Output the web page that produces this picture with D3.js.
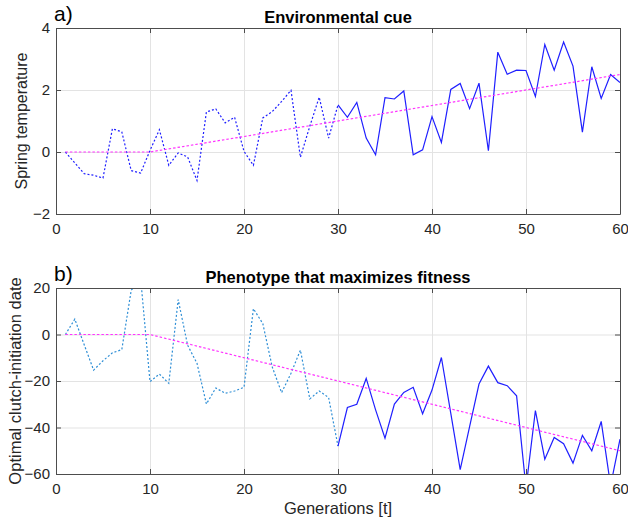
<!DOCTYPE html>
<html>
<head>
<meta charset="utf-8">
<script src="https://cdn.jsdelivr.net/npm/d3@7"></script>
<style>
  body { margin: 0; background: #fff; }
  svg { display: block; font-family: "Liberation Sans", Arial, sans-serif; }
</style>
</head>
<body>
<svg id="chart" width="628" height="528"></svg>
<script>
// generations on the x axis
const generations = [
   1,  2,  3,  4,  5,  6,  7,  8,  9, 10,
  11, 12, 13, 14, 15, 16, 17, 18, 19, 20,
  21, 22, 23, 24, 25, 26, 27, 28, 29, 30,
  31, 32, 33, 34, 35, 36, 37, 38, 39, 40,
  41, 42, 43, 44, 45, 46, 47, 48, 49, 50,
  51, 52, 53, 54, 55, 56, 57, 58, 59, 60];

// a) spring temperature (environmental cue)
const cueValues = [
  0, -0.35, -0.7, -0.75, -0.84, 0.75, 0.65, -0.6, -0.68, 0.05,
  0.72, -0.43, -0.03, -0.16, -0.92, 1.29, 1.39, 0.94, 1.12, 0.02,
  -0.43, 1.1, 1.3, 1.63, 1.99, -0.17, 0.83, 1.77, 0.45, 1.52,
  1.12, 1.6, 0.45, -0.09, 1.75, 1.71, 1.97, -0.09, 0.07, 1.14,
  0.31, 2.02, 2.21, 1.4, 2.22, 0.04, 3.22, 2.51, 2.64, 2.63,
  1.79, 3.47, 2.64, 3.55, 2.77, 0.64, 2.75, 1.73, 2.5, 2.24];

// b) optimal clutch-initiation date
const optimumValues = [
  0, 6.6, -4.4, -15.3, -11.3, -7.9, -6.5, 19, 24.4, -20.3,
  -17, -21, 15, -4.6, -12.4, -29.9, -23, -25.3, -24.3, -22.7,
  11.1, 4.7, -13.9, -25, -16.7, -6.7, -27.7, -24.3, -27.1, -48,
  -31.4, -30, -18.9, -32.4, -44.6, -29.9, -24.9, -22.7, -34.1, -23.9,
  -9.9, -33.9, -58.1, -39.6, -21.3, -13.6, -20.7, -22, -26.4, -66,
  -32.7, -53.6, -44.3, -47, -55.3, -43.4, -50, -37.4, -65, -45];

// mean trend (magenta): flat until generation 10, then linear
const trendGens = [1, 10, 60];
const cueTrend = [0, 0, 2.5];
const optimumTrend = [0, 0, -50];

// generation where the dotted part ends and the solid part starts
const splitGen = 30;

const xTicks = [0, 10, 20, 30, 40, 50, 60];
const cueTicks = [-2, 0, 2, 4];
const optimumTicks = [-60, -40, -20, 0, 20];

const svg = d3.select("#chart");
const left = 56, right = 620;

/**
 * draws one panel (axes box, grid, series, trend, labels)
 */
function drawPanel(cfg) {
    let x = d3.scaleLinear().domain([0, 60]).range([left, right]);
    let y = d3.scaleLinear().domain(cfg.domain).range([cfg.bottom, cfg.top]);
    let h = cfg.bottom - cfg.top;
    let g = svg.append("g");

    // grid lines
    g.append("g")
        .attr("transform", `translate(0,${cfg.bottom})`)
        .call(d3.axisBottom(x).tickValues(xTicks).tickSize(-h).tickFormat(""))
        .call(a => a.select(".domain").remove())
        .selectAll("line").attr("stroke", "#e3e3e3");
    g.append("g")
        .attr("transform", `translate(${left},0)`)
        .call(d3.axisLeft(y).tickValues(cfg.ticks).tickSize(-(right - left)).tickFormat(""))
        .call(a => a.select(".domain").remove())
        .selectAll("line").attr("stroke", "#e3e3e3");

    // clip the series to the axes box
    svg.append("clipPath").attr("id", cfg.id + "-clip")
        .append("rect")
        .attr("x", left).attr("y", cfg.top)
        .attr("width", right - left).attr("height", h);

    let plot = g.append("g").attr("clip-path", `url(#${cfg.id}-clip)`);
    let pts = generations.map((gen, i) => [gen, cfg.values[i]]);
    let line = d3.line().x(d => x(d[0])).y(d => y(d[1]));

    // dotted part up to the split, solid after
    plot.append("path")
        .datum(pts.filter(d => d[0] <= splitGen))
        .attr("d", line)
        .attr("fill", "none")
        .attr("stroke", cfg.dotColor)
        .attr("stroke-width", 1.2)
        .attr("stroke-dasharray", "2,2");
    plot.append("path")
        .datum(pts.filter(d => d[0] >= splitGen))
        .attr("d", line)
        .attr("fill", "none")
        .attr("stroke", "#1f1fff")
        .attr("stroke-width", 1.2);

    // trend
    plot.append("path")
        .datum(trendGens.map((gen, i) => [gen, cfg.trend[i]]))
        .attr("d", line)
        .attr("fill", "none")
        .attr("stroke", "#ff33ff")
        .attr("stroke-width", 1.2)
        .attr("stroke-dasharray", "2.5,2");

    // axes with inward ticks on all four sides
    let styleAxis = a => {
        a.attr("font-size", 15).attr("font-family", "Liberation Sans, Arial, sans-serif");
        a.select(".domain").attr("stroke", "#4d4d4d");
        a.selectAll(".tick line").attr("stroke", "#4d4d4d");
        a.selectAll("text").attr("fill", "#262626");
    };
    let fmt = d3.format("d");
    g.append("g")
        .attr("transform", `translate(0,${cfg.bottom})`)
        .call(d3.axisBottom(x).tickValues(xTicks).tickFormat(fmt)
            .tickSizeInner(-5).tickSizeOuter(0).tickPadding(9))
        .call(styleAxis);
    g.append("g")
        .attr("transform", `translate(0,${cfg.top})`)
        .call(d3.axisTop(x).tickValues(xTicks).tickSizeInner(-5).tickSizeOuter(0).tickFormat(""))
        .call(styleAxis);
    g.append("g")
        .attr("transform", `translate(${left},0)`)
        .call(d3.axisLeft(y).tickValues(cfg.ticks).tickFormat(fmt)
            .tickSizeInner(-5).tickSizeOuter(0).tickPadding(6))
        .call(styleAxis);
    g.append("g")
        .attr("transform", `translate(${right},0)`)
        .call(d3.axisRight(y).tickValues(cfg.ticks).tickSizeInner(-5).tickSizeOuter(0).tickFormat(""))
        .call(styleAxis);

    // panel letter and title
    g.append("text")
        .attr("x", 54).attr("y", cfg.top - 7)
        .attr("font-size", 21).attr("fill", "#000")
        .text(cfg.letter);
    g.append("text")
        .attr("x", (left + right) / 2).attr("y", cfg.top - 5)
        .attr("text-anchor", "middle")
        .attr("font-size", 16.5).attr("font-weight", "bold").attr("fill", "#000")
        .text(cfg.title);

    // y label
    g.append("text")
        .attr("transform", `translate(${cfg.labelX},${cfg.top + h / 2}) rotate(-90)`)
        .attr("text-anchor", "middle")
        .attr("font-size", cfg.labelSize).attr("fill", "#262626")
        .text(cfg.ylabel);
}

drawPanel({
    id: "cue", top: 28, bottom: 214, domain: [-2, 4], ticks: cueTicks,
    values: cueValues, trend: cueTrend, dotColor: "#1f1fff",
    letter: "a)", title: "Environmental cue",
    ylabel: "Spring temperature", labelX: 27, labelSize: 16
});

drawPanel({
    id: "opt", top: 288, bottom: 474, domain: [-60, 20], ticks: optimumTicks,
    values: optimumValues, trend: optimumTrend, dotColor: "#2f8fd6",
    letter: "b)", title: "Phenotype that maximizes fitness",
    ylabel: "Optimal clutch-initiation date", labelX: 21, labelSize: 16.5
});

// shared x label
svg.append("text")
    .attr("x", (left + right) / 2).attr("y", 514)
    .attr("text-anchor", "middle")
    .attr("font-size", 16.5).attr("fill", "#262626")
    .text("Generations [t]");
</script>
</body>
</html>
